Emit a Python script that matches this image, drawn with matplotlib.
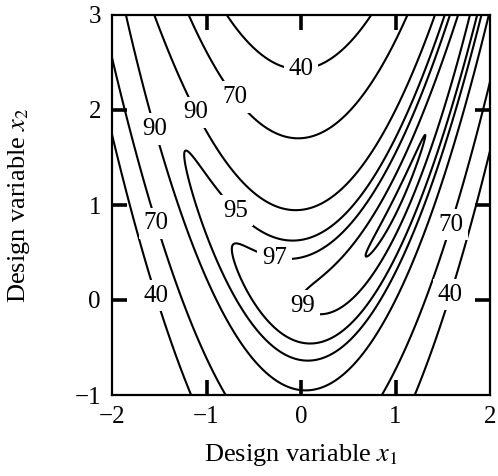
import numpy as np
import matplotlib
matplotlib.use("Agg")
import matplotlib.pyplot as plt

plt.rcParams['font.family'] = ['Liberation Serif', 'DejaVu Serif']
plt.rcParams['mathtext.fontset'] = 'stix'

# contour levels (last one is the small unlabeled loop around the peak)
levels = [40, 70, 90, 95, 97, 99, 99.9]
label_levels = [40, 70, 90, 95, 97, 99]
x1_lim = [-2, 2]
x2_lim = [-1, 3]
x1_ticks = [-2, -1, 0, 1, 2]
x2_ticks = [-1, 0, 1, 2, 3]

# banana shaped objective, peak 100 at (1, 1)
peak = 100
a = 1.0
b = 10.0

# where the labels sit on the curves
label_pos = [(0.0, 2.44), (-0.70, 2.14), (-1.52, 1.81), (-1.10, 1.98),
             (-1.52, 0.81), (-1.52, 0.05), (-0.68, 0.95), (-0.28, 0.44),
             (0.07, -0.03), (1.60, 0.79), (1.60, 0.05)]

x1 = np.linspace(x1_lim[0], x1_lim[1], 801)
x2 = np.linspace(x2_lim[0], x2_lim[1], 801)
X1, X2 = np.meshgrid(x1, x2)
F = peak - (a - X1)**2 - b*(X2 - X1**2)**2

fig = plt.figure(figsize=(4.98, 4.76), dpi=100)
ax = fig.add_axes([112/498, 81/476, 378/498, 380/476])

cs = ax.contour(X1, X2, F, levels=levels, colors='black', linewidths=1.5,
                linestyles='solid')
labs = ax.clabel(cs, levels=label_levels, inline=False, fontsize=18, fmt='%g',
                 manual=label_pos)
# upright labels on a white patch, like the gaps in the original
for t in labs:
    t.set_rotation(0)
    t.set_bbox(dict(facecolor='white', edgecolor='none', pad=3.5))

ax.set_xlim(x1_lim)
ax.set_ylim(x2_lim)
ax.set_xticks(x1_ticks)
ax.set_yticks(x2_ticks)
ax.set_xticklabels([f'{t:g}'.replace('-', '\u2212') for t in x1_ticks])
ax.set_yticklabels([f'{t:g}'.replace('-', '\u2212') for t in x2_ticks])
ax.tick_params(direction='in', length=11, width=2.6, top=True, right=True,
               labelsize=18, pad=8)
# no tick marks on the corners
for axis in (ax.xaxis, ax.yaxis):
    tks = axis.get_major_ticks()
    for tk in (tks[0], tks[-1]):
        tk.tick1line.set_visible(False)
        tk.tick2line.set_visible(False)
for s in ax.spines.values():
    s.set_linewidth(1.6)

ax.set_xlabel('Design variable $x_1$', fontsize=19, va='center')
ax.set_ylabel('Design variable $x_2$', fontsize=19, va='center')
ax.xaxis.set_label_coords(0.5, -0.158)
ax.yaxis.set_label_coords(-0.246, 0.5)

fig.savefig('out.png', dpi=100)
